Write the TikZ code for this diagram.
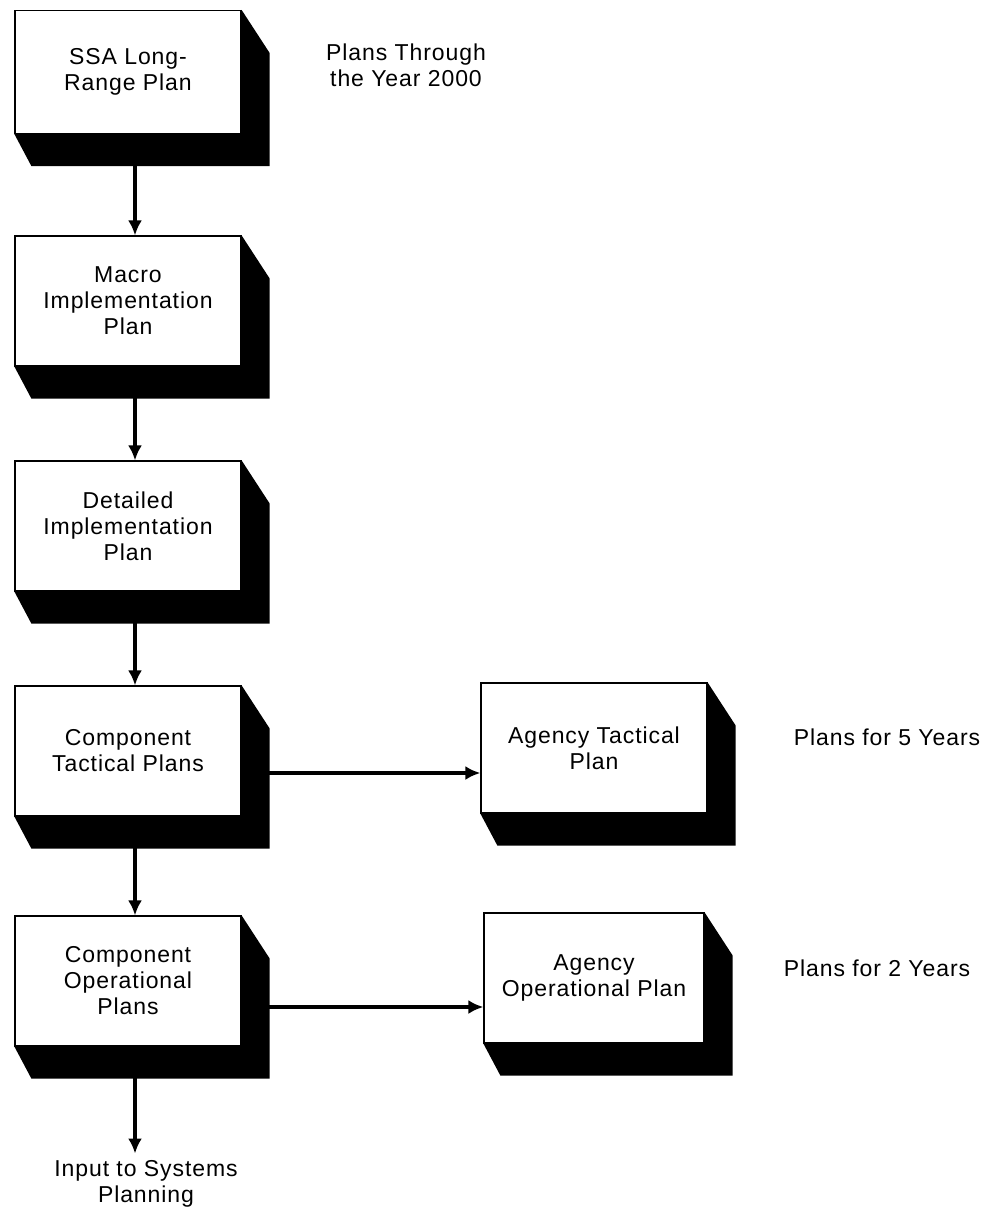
\documentclass[tikz,border=0pt]{standalone}
\usepackage{fontspec}
\setmainfont[LetterSpace=4]{Liberation Sans}
\usetikzlibrary{arrows.meta}

\tikzset{
  planbox/.style={draw, fill=white, line width=0.6pt, align=center,
    minimum width=113pt, minimum height=65pt, inner sep=2pt},
  flow/.style={-{Latex[length=7.5pt,width=7pt]}, line width=1.8pt},
  note/.style={align=center}
}
\newcommand{\boxshadow}[1]{%
  \fill (#1.north east) -- ++(28,43) -- ([shift={(28,32)}]#1.south east)
    -- ([shift={(17,32)}]#1.south west) -- (#1.south west)
    -- (#1.south east) -- cycle;}

\begin{document}
\begin{tikzpicture}[x=0.5pt, y=-0.5pt, font=\fontsize{11.5}{13}\selectfont]
            \useasboundingbox (0,0) rectangle (1002,1207);
            \def \colx {128}
            \def \agx {594}

            \node[planbox, minimum height=61.5pt] (ssa) at (\colx,72) {SSA Long-\\Range Plan};
            \boxshadow{ssa}
            \node[planbox] (macro) at (\colx,301) {Macro\\Implementation\\Plan};
            \boxshadow{macro}
            \node[planbox] (detail) at (\colx,526) {Detailed\\Implementation\\Plan};
            \boxshadow{detail}
            \node[planbox] (comptac) at (\colx,751) {Component\\Tactical Plans};
            \boxshadow{comptac}
            \node[planbox] (compop) at (\colx,981) {Component\\Operational\\Plans};
            \boxshadow{compop}
            \node[planbox] (agtac) at (\agx,748) {Agency Tactical\\Plan};
            \boxshadow{agtac}
            \node[planbox, minimum width=110pt] (agop) at (\agx,978) {Agency\\Operational Plan};
            \boxshadow{agop}

            \node[note] (through) at (406,65) {Plans Through\\the Year 2000};
            \node[note] (five) at (887,737) {Plans for 5 Years};
            \node[note] (two) at (877,968) {Plans for 2 Years};
            \node[note] (input) at (146,1184) {Input to Systems\\Planning};

            \draw[flow] ([xshift=3.5pt]ssa.south) -- ([xshift=3.5pt]macro.north);
            \draw[flow] ([xshift=3.5pt]macro.south) -- ([xshift=3.5pt]detail.north);
            \draw[flow] ([xshift=3.5pt]detail.south) -- ([xshift=3.5pt]comptac.north);
            \draw[flow] ([xshift=3.5pt]comptac.south) -- ([xshift=3.5pt]compop.north);
            \draw[flow] ([xshift=3.5pt]compop.south) -- ([xshift=3.5pt]compop.south |- input.north);
            \draw[flow] ([yshift=-11pt]comptac.east) -- ([yshift=-11pt]comptac.east -| agtac.west);
            \draw[flow] ([yshift=-13pt]compop.east) -- ([yshift=-13pt]compop.east -| agop.west);
\end{tikzpicture}
\end{document}
